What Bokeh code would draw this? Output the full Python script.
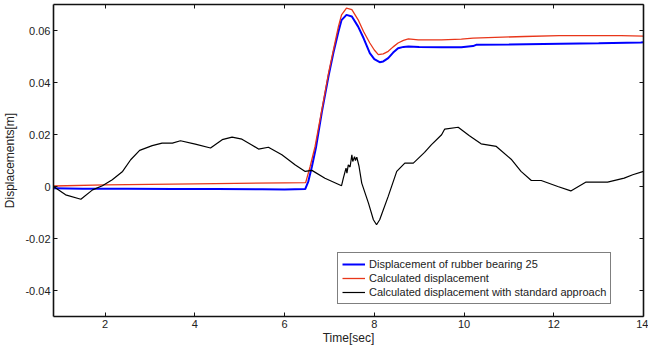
from bokeh.plotting import figure
from bokeh.models import Range1d, LinearAxis, FixedTicker, CustomJSTickFormatter, Legend, LegendItem
from bokeh.embed import file_html
from bokeh.resources import INLINE

# ---- data ----
blue_t = [0.85, 1.5, 2.5, 3.5, 4.5, 5.5, 6.0, 6.46, 6.53, 6.61, 6.7, 6.83, 6.98, 7.09, 7.2, 7.27,
          7.38, 7.5, 7.64, 7.76, 7.9, 8.0, 8.12, 8.2, 8.31, 8.42, 8.53, 8.65, 8.76, 9.0, 9.5,
          9.94, 10.2, 10.27, 11.0, 12.16, 13.0, 13.94, 14.0]
blue_v = [-0.0007, -0.0009, -0.0009, -0.0010, -0.0010, -0.0011, -0.0012, -0.0010, 0.0020, 0.0077,
          0.0150, 0.0285, 0.0425, 0.0515, 0.0595, 0.0640,
          0.0660, 0.0654, 0.0615, 0.0571, 0.0513, 0.0490, 0.0478, 0.0481, 0.0494, 0.0515,
          0.0532, 0.0537, 0.0538, 0.0537, 0.0536, 0.0536, 0.0540, 0.0545, 0.0546, 0.0549,
          0.0551, 0.0554, 0.0555]

red_t = [0.85, 2.0, 4.0, 6.0, 6.47, 6.57, 6.68, 6.83, 6.98, 7.09, 7.2, 7.27, 7.38, 7.5, 7.64,
         7.76, 7.9, 8.0, 8.09, 8.2, 8.31, 8.42, 8.53, 8.65, 8.76, 8.98, 9.5, 9.94, 10.2, 11.35,
         12.12, 13.5, 14.0]
red_v = [0.0002, 0.0006, 0.0010, 0.0014, 0.0015, 0.0077, 0.0154, 0.0295, 0.0436, 0.0526, 0.0615,
         0.0660, 0.0686, 0.0680, 0.0641, 0.0596, 0.0552, 0.0525, 0.0507, 0.0510, 0.0520, 0.0537,
         0.0552, 0.0562, 0.0568, 0.0564, 0.0564, 0.0567, 0.0571, 0.0577, 0.0580, 0.0580, 0.0578]

black_t = [0.85, 1.12, 1.46, 1.72, 1.94, 2.16, 2.39, 2.57, 2.77, 3.05, 3.27, 3.5, 3.68, 4.01,
           4.35, 4.61, 4.83, 5.05, 5.27, 5.42, 5.64, 5.94, 6.24, 6.46, 6.61, 6.9, 7.27, 7.31,
           7.35, 7.37, 7.39, 7.42, 7.46, 7.5, 7.52, 7.56, 7.58, 7.61, 7.66, 7.72, 7.87, 7.98,
           8.05, 8.12, 8.31, 8.5, 8.68, 8.87, 9.12, 9.27, 9.5, 9.57, 9.87, 10.12, 10.38, 10.72,
           11.05, 11.27, 11.5, 11.72, 12.09, 12.38, 12.72, 13.2, 13.57, 13.76, 14.0]
black_v = [0.0000, -0.0032, -0.0049, -0.0013, 0.0003, 0.0026, 0.0058, 0.0103, 0.0139, 0.0157,
           0.0167, 0.0167, 0.0176, 0.0163, 0.0148, 0.0180, 0.0190, 0.0182, 0.0160, 0.0144,
           0.0151, 0.0122, 0.0083, 0.0058, 0.0062, 0.0032, 0.0003, 0.0032, 0.0058, 0.0071,
           0.0051, 0.0083, 0.0075, 0.0122, 0.0096, 0.0115, 0.0100, 0.0113, 0.0077, 0.0013,
           -0.0064, -0.0128, -0.0147, -0.0128, -0.0038, 0.0058, 0.0090, 0.0090, 0.0131, 0.0160,
           0.0199, 0.0221, 0.0228, 0.0195, 0.0164, 0.0154, 0.0105, 0.0058, 0.0023, 0.0023,
           0.0000, -0.0017, 0.0017, 0.0017, 0.0032, 0.0045, 0.0058]

x_ticks = [2, 4, 6, 8, 10, 12, 14]
y_ticks = [-0.04, -0.02, 0.0, 0.02, 0.04, 0.06]
labels = ["Displacement of rubber bearing 25", "Calculated displacement",
          "Calculated displacement with standard approach"]

FONT = "Liberation Sans"
TXT = "#222222"

p = figure(width=648, height=347, output_backend="svg", toolbar_location=None,
           x_range=Range1d(0.85, 14), y_range=Range1d(-0.05, 0.07),
           min_border_left=51, min_border_right=5, min_border_top=4, min_border_bottom=30)
p.grid.visible = False
p.outline_line_color = None
p.background_fill_color = "white"

rb = p.line(blue_t, blue_v, line_color="#0000FF", line_width=2.0)
rr = p.line(red_t, red_v, line_color="#E8361A", line_width=1.3)
rk = p.line(black_t, black_v, line_color="#000000", line_width=1.2)

fmt = CustomJSTickFormatter(code="return Math.abs(tick) < 1e-9 ? '0' : tick.toFixed(2);")

def style(ax, show_labels):
    ax.axis_line_color = "#111111"
    ax.axis_line_width = 1.6
    ax.major_tick_line_color = "#111111"
    ax.major_tick_in = 4
    ax.major_tick_out = 0
    ax.minor_tick_line_color = None
    ax.major_label_text_font = FONT
    ax.major_label_text_font_size = "11px"
    ax.major_label_text_color = TXT if show_labels else None
    ax.axis_label_text_font = FONT
    ax.axis_label_text_font_size = "12px"
    ax.axis_label_text_font_style = "normal"
    ax.axis_label_text_color = TXT

p.xaxis.ticker = FixedTicker(ticks=x_ticks)
p.yaxis.ticker = FixedTicker(ticks=y_ticks)
p.yaxis.formatter = fmt
p.xaxis.axis_label = "Time[sec]"
p.yaxis.axis_label = "Displacements[m]"
for ax in p.xaxis + p.yaxis:
    style(ax, True)
p.xaxis.major_label_standoff = 3
p.xaxis.axis_label_standoff = 0
p.yaxis.major_label_standoff = 3
p.yaxis.axis_label_standoff = 5

top = LinearAxis(ticker=FixedTicker(ticks=x_ticks))
right = LinearAxis(ticker=FixedTicker(ticks=y_ticks))
style(top, False)
style(right, False)
top.major_label_text_font_size = "0px"
right.major_label_text_font_size = "0px"
top.major_label_standoff = 0
right.major_label_standoff = 0
p.add_layout(top, "above")
p.add_layout(right, "right")

legend = Legend(items=[LegendItem(label=labels[0], renderers=[rb]),
                       LegendItem(label=labels[1], renderers=[rr]),
                       LegendItem(label=labels[2], renderers=[rk])],
                location=(284, 12))
legend.label_text_font = FONT
legend.label_text_font_size = "11px"
legend.label_text_color = TXT
legend.border_line_color = "#000000"
legend.border_line_width = 1
legend.background_fill_color = "white"
legend.background_fill_alpha = 1
legend.padding = 4
legend.margin = 0
legend.spacing = 0
legend.label_height = 14
legend.glyph_height = 14
legend.glyph_width = 23
legend.label_standoff = 4
p.add_layout(legend)

open("out.html", "w").write(file_html(p, INLINE))
